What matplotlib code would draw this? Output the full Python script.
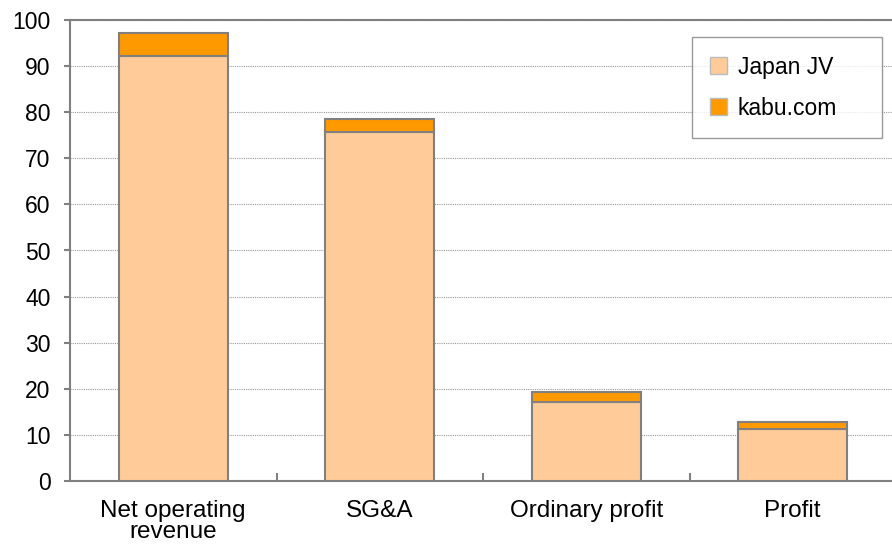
import matplotlib.pyplot as plt
from matplotlib.patches import Patch
import numpy as np

# ---------- Data ----------
categories = ["Net operating\nrevenue", "SG&A", "Ordinary profit", "Profit"]
japan_jv = [92.2, 75.7, 17.1, 11.3]
kabu_com = [4.9, 2.8, 2.1, 1.6]

plt.rcParams["font.family"] = ["Liberation Sans", "DejaVu Sans"]

fig = plt.figure(figsize=(8.92, 5.45), dpi=100)
ax = fig.add_axes([70 / 892, 1 - 481 / 545, 826 / 892, 461 / 545])

x = np.arange(len(categories))
edge = "#808080"
ax.bar(x, japan_jv, width=0.53, color="#FFCC99", edgecolor=edge, linewidth=1.5,
       label="Japan JV", zorder=3)
ax.bar(x, kabu_com, width=0.53, bottom=japan_jv, color="#FF9900", edgecolor=edge,
       linewidth=1.5, label="kabu.com", zorder=3)

ax.set_xlim(-0.5, len(categories) - 0.5)
ax.set_ylim(0, 100)
ax.set_yticks(range(0, 101, 10))
ax.yaxis.grid(True, linestyle=(0, (1, 1)), color="#999999", linewidth=0.8, zorder=0)

# category labels centered, ticks at boundaries
ax.set_xticks(x)
ax.set_xticklabels(categories, fontsize=17.5, linespacing=0.92)
ax.tick_params(axis="x", length=0, pad=14)
ax.set_xticks(np.arange(0.5, len(categories) - 0.5, 1), minor=True)
ax.tick_params(axis="x", which="minor", direction="in", length=6, color=edge, width=1.5)
ax.tick_params(axis="y", labelsize=16.5, length=4, color=edge, width=1.5, pad=10)

for side in ["left", "bottom", "top", "right"]:
    ax.spines[side].set_color(edge)
    ax.spines[side].set_linewidth(1.5)

handles = [Patch(facecolor="#FFCC99", edgecolor="#bbbbbb", label="Japan JV"),
           Patch(facecolor="#FF9900", edgecolor="#bbbbbb", label="kabu.com")]
leg = ax.legend(handles=handles, loc="upper left", bbox_to_anchor=(0.7527, 0.0, 0.230, 0.9625),
                mode="expand", fontsize=16.5, frameon=True, fancybox=False, borderpad=0.8,
                handlelength=0.76, handleheight=0.76, handletextpad=0.45,
                labelspacing=0.8, borderaxespad=0)
leg.get_frame().set_edgecolor(edge)
leg.get_frame().set_linewidth(1.0)

fig.savefig("out.png", dpi=100)
